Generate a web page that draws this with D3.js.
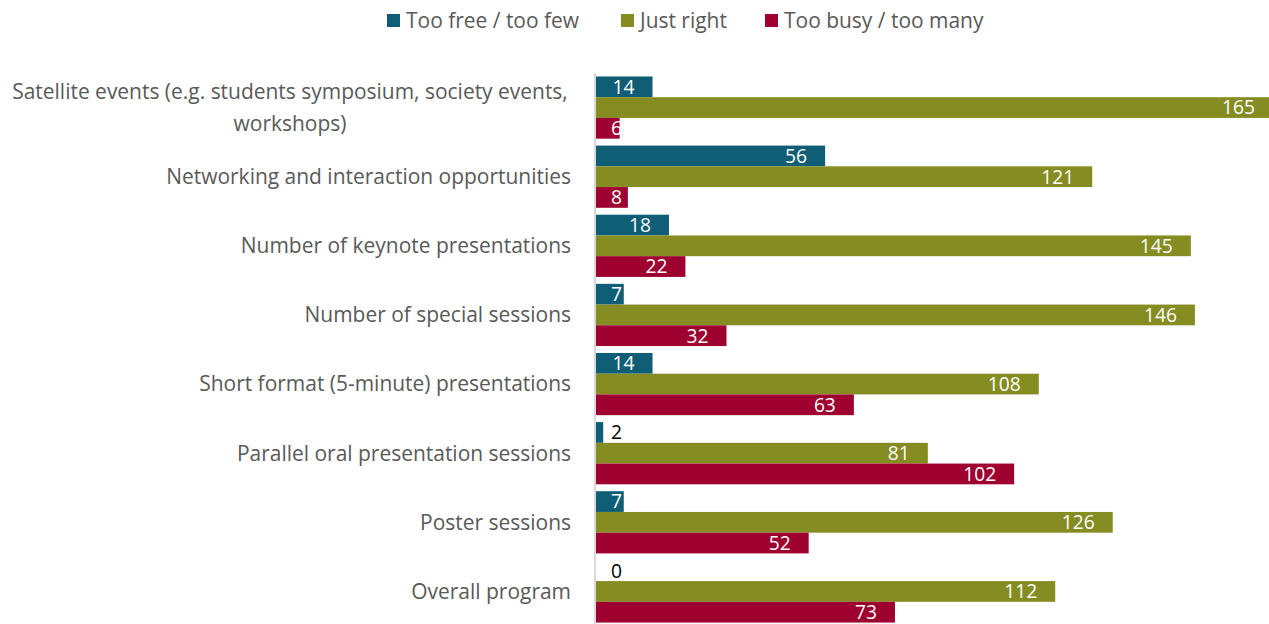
<!DOCTYPE html>
<html><head><meta charset="utf-8">
<script src="https://cdn.jsdelivr.net/npm/d3@7"></script>
<style>body{margin:0;background:#fff}svg{display:block;font-family:"Open Sans","Liberation Sans",sans-serif}</style>
</head><body><svg id="c" width="1269" height="624"></svg>
<script>
const categories = [
  "Satellite events (e.g. students symposium, society events,|workshops)",
  "Networking and interaction opportunities",
  "Number of keynote presentations",
  "Number of special sessions",
  "Short format (5-minute) presentations",
  "Parallel oral presentation sessions",
  "Poster sessions",
  "Overall program"
];
const seriesNames = ["Too free / too few", "Just right", "Too busy / too many"];
const tooFew  = [14, 56, 18, 7, 14, 2, 7, 0];
const justRight = [165, 121, 145, 146, 108, 81, 126, 112];
const tooMany = [6, 8, 22, 32, 63, 102, 52, 73];
const colors = ["#0F5E76", "#848C22", "#9E002F"];

const seriesVals = [tooFew, justRight, tooMany];
const svg = d3.select("#c");

// fit font sizes to reference text widths
function widthAt(str, fs) {
  const p = svg.append("text").attr("font-size", fs).text(str);
  const w = p.node().getComputedTextLength();
  p.remove();
  return w;
}
const fsLabel = 20 * 405 / widthAt("Networking and interaction opportunities", 20);
const fsValue = 20 * 33 / widthAt("121", 20);

const x = d3.scaleLinear().domain([0, 165]).range([595, 1273]);
const y = d3.scaleBand().domain(categories).range([73, 626]).paddingInner(0.1).paddingOuter(0.05);
const ys = d3.scaleBand().domain([0,1,2]).range([0, y.bandwidth()]);

svg.append("defs").append("clipPath").attr("id","pc").append("rect")
  .attr("x",595).attr("y",60).attr("width",674).attr("height",570);

const g = svg.append("g").attr("clip-path","url(#pc)");
categories.forEach((c, i) => {
  seriesVals.forEach((vals, s) => {
    const v = vals[i];
    const y0 = y(c) + ys(s);
    g.append("rect").attr("x", x(0)).attr("y", y0).attr("width", x(v) - x(0))
      .attr("height", ys.bandwidth()).attr("fill", colors[s]);
    const w = widthAt(String(v), fsValue);
    const inside = v >= 5;
    g.append("text")
      .attr("x", Math.max(611, x(v) - 18 - w))
      .attr("y", y0 + ys.bandwidth()/2)
      .attr("dy", "0.36em")
      .attr("text-anchor", "start")
      .attr("font-size", fsValue)
      .attr("fill", inside ? "#ffffff" : "#000000")
      .text(v);
  });
});

// axis line
svg.append("line").attr("x1",595).attr("x2",595).attr("y1",73).attr("y2",624)
  .attr("stroke","#D9D9D9").attr("stroke-width",2);

// category labels
categories.forEach(c => {
  const lines = c.split("|");
  const cy = y(c) + y.bandwidth()/2;
  if (lines.length === 1) {
    svg.append("text").attr("x",571).attr("y",cy).attr("dy","0.35em")
      .attr("text-anchor","end").attr("font-size",fsLabel).attr("fill","#595959").text(lines[0]);
  } else {
    const t = svg.append("text").attr("font-size",fsLabel).attr("fill","#595959").attr("text-anchor","middle");
    lines.forEach((l, j) => {
      t.append("tspan").attr("x",290).attr("y", cy - 16 + j*32).attr("dy","0.35em").text(l);
    });
  }
});

// legend
const legX = [387, 621, 765];
seriesNames.forEach((n, i) => {
  svg.append("rect").attr("x",legX[i]).attr("y",14).attr("width",13).attr("height",13).attr("fill",colors[i]);
  svg.append("text").attr("x",legX[i]+19).attr("y",21).attr("dy","0.35em")
    .attr("font-size",fsLabel).attr("fill","#595959").text(n);
});
</script></body></html>
